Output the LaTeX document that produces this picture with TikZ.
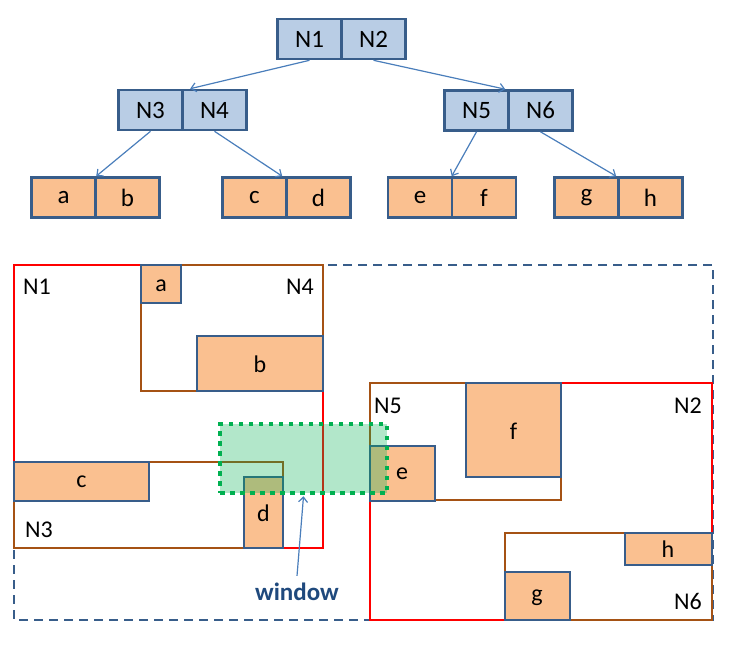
\documentclass[tikz,border=0pt]{standalone}
\usepackage{fontspec}
\setmainfont{Carlito}
\usetikzlibrary{arrows.meta,calc}
\definecolor{boxblue}{RGB}{56,93,138}
\definecolor{lightblue}{RGB}{185,205,229}
\definecolor{leafor}{RGB}{250,192,144}
\definecolor{arrblue}{RGB}{74,126,187}
\definecolor{brownc}{RGB}{165,82,20}
\definecolor{redc}{RGB}{255,0,0}
\definecolor{wgreen}{RGB}{0,176,80}
\definecolor{wtext}{RGB}{31,73,125}
\tikzset{
  tcell/.style={draw=boxblue, fill=lightblue, line width=2.6pt, minimum width=64pt, minimum height=40pt, inner sep=0pt, font=\fontsize{25}{29}\selectfont},
  lcell/.style={draw=boxblue, fill=leafor, line width=2.6pt, minimum width=64pt, minimum height=40pt, inner sep=0pt, font=\fontsize{25}{29}\selectfont},
  tarrow/.style={draw=arrblue, line width=1.2pt, -{Straight Barb[length=5pt,width=9pt]}},
  leafr/.style={draw=boxblue, fill=leafor, line width=2.6pt},
  redr/.style={draw=redc, line width=2.6pt},
  brownr/.style={draw=brownc, line width=2.6pt},
  dashr/.style={draw=boxblue, line width=2.3pt, dash pattern=on 9pt off 6pt},
  lbl/.style={font=\fontsize{24}{28}\selectfont, inner sep=0pt},
  winbox/.style={fill=wgreen, fill opacity=0.3, draw=wgreen, draw opacity=1, line width=4.5pt, dash pattern=on 4.5pt off 5.5pt, inner sep=0pt}
}
\begin{document}
\begin{tikzpicture}[x=1pt,y=-1pt]
\useasboundingbox (0,0) rectangle (730,645);
% ---- tree ----
\node[tcell] (n1) at (309.5,39) {N1};
\node[tcell] (n2) at (373.5,39) {N2};
\node[tcell] (n3) at (150.5,110) {N3};
\node[tcell] (n4) at (214.5,110) {N4};
\node[tcell] (n5) at (476.5,110.5) {N5};
\node[tcell] (n6) at (540.5,110.5) {N6};
\node[lcell] (la) at (63.5,197.5) {a};
\node[lcell] (lb) at (127.5,197.5) {b};
\node[lcell] (lc) at (254.5,197.5) {c};
\node[lcell] (ld) at (318.5,197.5) {d};
\node[lcell] (le) at (420,197.5) {e};
\node[lcell] (lf) at (484,197.5) {f};
\node[lcell] (lg) at (586.5,197.5) {g};
\node[lcell] (lh) at (650.5,197.5) {h};
\draw[tarrow] (n1.south) -- ($(n4.north west)+(9,0)$);
\draw[tarrow] (n2.south) -- ($(n6.north west)+(-2,0)$);
\draw[tarrow] (n3.south) -- ($(lb.north west)+(2,0)$);
\draw[tarrow] (n4.south) -- ($(ld.north west)+(-3,0)$);
\draw[tarrow] (n5.south) -- ($(lf.north west)+(1,0)$);
\draw[tarrow] (n6.south) -- ($(lh.north west)+(-1,0)$);
% ---- spatial layout ----
\draw[dashr] (14,265) rectangle (713,620);
\draw[redr] (14,265) rectangle (323,548);
\draw[redr] (370,383) rectangle (712,620);
\draw[brownr] (141,265) rectangle (323,391);
\draw[brownr] (14,462) rectangle (283,548);
\draw[brownr] (370,383) rectangle (561,500);
\draw[brownr] (505,533) rectangle (712,620);
\draw[leafr] (141,265) rectangle (181,303);
\draw[leafr] (197,336) rectangle (323,391);
\draw[leafr] (14,462) rectangle (149,501);
\draw[leafr] (244,477) rectangle (283,548);
\draw[leafr] (466,383) rectangle (561,477);
\draw[leafr] (370,446) rectangle (435,501);
\draw[leafr] (625,533) rectangle (712,565);
\draw[leafr] (505,572) rectangle (570,620);
% window
\node[winbox, minimum width=167pt, minimum height=69pt] (win) at (303.5,458.5) {};
% labels
\node[lbl] (tN1) at (37,287) {N1};
\node[lbl] (tN4) at (300,287) {N4};
\node[lbl] (tN3) at (39,530) {N3};
\node[lbl] (tN5) at (388,406) {N5};
\node[lbl] (tN2) at (688,406) {N2};
\node[lbl] (tN6) at (688,601) {N6};
\node[lbl] (ta) at (161,286) {a};
\node[lbl] (tb) at (260,364) {b};
\node[lbl] (tc) at (81.5,482) {c};
\node[lbl] (td) at (263.5,513) {d};
\node[lbl] (te) at (402,474) {e};
\node[lbl] (tf) at (513.5,431) {f};
\node[lbl] (tg) at (537,598) {g};
\node[lbl] (th) at (668,549) {h};
\node[font=\fontsize{25}{29}\selectfont\bfseries, text=wtext, inner sep=0pt] (wl) at (297,592) {window};
\draw[tarrow] ($(wl.north)+(0,-7)$) -- ($(win.south)+(0,1)$);
\end{tikzpicture}
\end{document}
